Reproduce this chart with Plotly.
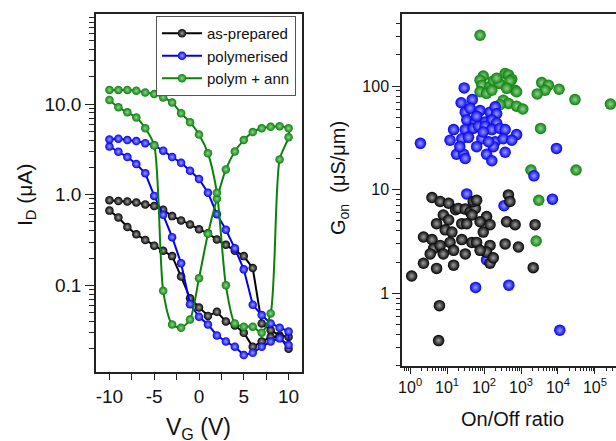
import math
import plotly.graph_objects as go

# ---------------- data: left panel (transfer curves) ----------------
vg = list(range(-10, 11))  # gate voltage, V

asprep_a = [0.87, 0.85, 0.84, 0.82, 0.78, 0.75, 0.68, 0.58, 0.52, 0.47, 0.415,
            0.375, 0.32, 0.28, 0.24, 0.21, 0.155, 0.038, 0.032, 0.028, 0.027]
asprep_b = [0.667, 0.56, 0.44, 0.365, 0.316, 0.274, 0.24, 0.21, 0.125, 0.072, 0.057,
            0.046, 0.051, 0.040, 0.036, 0.030, 0.021, 0.024, 0.027, 0.027, 0.020]

polym_a = [4.07, 4.15, 4.0, 3.9, 3.7, 3.5, 3.06, 2.6, 2.25, 1.84, 1.49,
           1.05, 0.61, 0.41, 0.256, 0.15, 0.061, 0.047, 0.038, 0.034, 0.031]
polym_b = [3.4, 2.98, 2.6, 2.18, 1.72, 0.97, 0.6, 0.34, 0.175, 0.062, 0.045,
           0.037, 0.028, 0.024, 0.021, 0.017, 0.018, 0.021, 0.024, 0.026, 0.022]

ann_a = [14.3, 14.3, 14.3, 14.0, 13.4, 12.9, 11.8, 10.4, 7.9, 6.3, 4.6,
         2.86, 1.05, 0.10, 0.038, 0.035, 0.035, 0.030, 0.049, 2.45, 4.3]
ann_b = [11.1, 9.2, 8.1, 7.1, 5.4, 3.5, 0.087, 0.037, 0.034, 0.042, 0.12,
         0.37, 0.9, 1.9, 3.0, 4.0, 4.9, 5.4, 5.6, 5.7, 5.4]

# ---------------- data: right panel (G_on vs On/Off ratio) ----------------
green_ratio = [95, 78, 87, 145, 178, 257, 372, 457, 562, 692, 759, 501, 78, 117, 162,
               331, 457, 759, 1120, 269, 3630, 5500, 4470, 2750, 10700, 28800, 263000,
               3390, 30900, 1860, 3020, 2570, 78, 219, 407]
green_gon = [125, 114, 102, 99, 112, 106, 132, 128, 116, 91, 88, 112, 88, 85, 91,
             73, 68, 64, 60, 66, 108, 102, 91, 84, 93, 74, 67,
             39, 15.5, 15.5, 7.9, 3.2, 309, 119, 95]

blue_ratio = [29, 24, 48, 31, 42, 78, 145, 200, 219, 34, 58, 107, 162, 219, 15, 31, 51,
              71, 107, 162, 269, 372, 759, 12, 25, 38, 87, 200, 331, 562, 1.9, 18, 28,
              117, 178, 372, 162, 31, 9100, 2240, 7080, 34, 347, 59, 468, 11200, 117,
              63, 95, 22, 63, 132]
blue_gon = [96, 69, 74, 56, 61, 58, 56, 63, 54, 47, 45, 45, 47, 44, 38, 38, 39,
            41, 41, 38, 39, 38, 34, 30, 31, 32, 31, 29, 31, 30, 28, 22, 22,
            22, 26, 23, 19, 20, 25, 13.6, 8.1, 9.1, 7.0, 1.14, 1.2, 0.44, 2.1,
            51, 36, 26, 26, 29]

black_ratio = [3.9, 6.5, 11, 17, 7.9, 11, 20, 31, 42, 58, 51, 63, 47, 117, 78, 145,
               5.2, 8.9, 13.5, 25, 34, 95, 457, 501, 407, 692, 2400, 2.3, 3.9, 4.3,
               6.5, 12, 25, 47, 63, 145, 117, 78, 3.5, 7.9, 15, 31, 372, 851,
               2.3, 5.2, 15, 145, 178, 2140, 1.1, 6.2, 5.9]
black_gon = [8.4, 7.7, 7.4, 6.4, 5.7, 5.1, 6.6, 6.5, 6.1, 6.6, 7.7, 7.9, 5.7, 5.5, 4.9, 4.6,
             4.7, 4.1, 3.9, 4.7, 4.7, 3.9, 8.9, 7.7, 4.9, 4.6, 4.6, 3.5, 3.3, 2.7,
             2.9, 3.1, 3.3, 3.1, 3.1, 2.9, 2.5, 2.6, 2.4, 2.4, 2.6, 2.4, 3.0, 2.8,
             1.95, 1.74, 1.87, 1.95, 2.2, 1.77, 1.47, 0.76, 0.35]

names = ["as-prepared", "polymerised", "polym + ann"]
colors = ["#000000", "#0000ee", "#0a820a"]
highlights = ["#a0a0a0", "#9a9aff", "#8fd08f"]

W, H = 616, 441

fig = go.Figure()


def loop(a, b):
    return vg + vg[::-1], a + b[::-1]


left_sets = [(asprep_a, asprep_b, "linear"), (polym_b, polym_a, "linear"), (ann_b, ann_a, "spline")]
for i, (a, b, shape) in enumerate(left_sets):
    xs, ys = loop(a, b)
    fig.add_trace(go.Scatter(
        x=xs, y=ys, mode="lines+markers", name=names[i],
        line=dict(color=colors[i], width=2, shape=shape, smoothing=0.7),
        marker=dict(size=8.5, color=colors[i], line=dict(width=0),
                    gradient=dict(type="radial", color=highlights[i])),
        xaxis="x", yaxis="y", showlegend=True))

right_sets = [(green_ratio, green_gon, 2), (blue_ratio, blue_gon, 1), (black_ratio, black_gon, 0)]
for xs, ys, ci in right_sets:
    fig.add_trace(go.Scatter(
        x=xs, y=ys, mode="markers", cliponaxis=False,
        marker=dict(size=11.5, color=colors[ci], line=dict(width=0),
                    gradient=dict(type="radial", color=highlights[ci])),
        xaxis="x2", yaxis="y2", showlegend=False))


def log_minor(lo, hi):
    return [m * 10 ** e for e in range(lo, hi) for m in range(2, 10)]


axis_common = dict(showgrid=False, zeroline=False, showline=True, linecolor="#222",
                   linewidth=1.5, ticks="outside", tickcolor="#222", tickwidth=1.2,
                   automargin=False)

fig.update_layout(
    width=W, height=H, margin=dict(l=0, r=0, t=0, b=0),
    paper_bgcolor="white", plot_bgcolor="white",
    font=dict(family="Arial, Liberation Sans, sans-serif", color="#111"),
    xaxis=dict(axis_common, domain=[96 / W, 302 / W], range=[-11.5, 11.5], mirror=True,
               tickmode="array", tickvals=[-10, -5, 0, 5, 10],
               ticktext=["-10", "-5", "0", "5", "10"], ticklen=6,
               tickfont=dict(size=19),
               minor=dict(tickmode="array", tickvals=[-7.5, -2.5, 2.5, 7.5], ticks="outside",
                          ticklen=6, tickcolor="#222", tickwidth=1.2)),
    yaxis=dict(axis_common, type="log", domain=[1 - 372 / H, 1 - 14 / H],
               range=[-1.956, 1.993], mirror=True,
               tickmode="array", tickvals=[0.1, 1, 10], ticktext=["0.1", "1.0", "10.0"],
               ticklen=9, tickfont=dict(size=19),
               minor=dict(tickmode="array", tickvals=log_minor(-2, 2), ticks="outside",
                          ticklen=5, tickcolor="#222", tickwidth=1.2)),
    xaxis2=dict(axis_common, type="log", domain=[402 / W, 1.0], range=[-0.22, 5.57],
                mirror=True, anchor="y2",
                tickmode="array", tickvals=[1, 10, 100, 1e3, 1e4, 1e5],
                ticktext=["10<sup>0</sup>", "10<sup>1</sup>", "10<sup>2</sup>",
                          "10<sup>3</sup>", "10<sup>4</sup>", "10<sup>5</sup>"],
                ticklen=6, tickfont=dict(size=16),
                minor=dict(tickmode="array", tickvals=log_minor(-1, 6), ticks="outside",
                           ticklen=3, tickcolor="#222", tickwidth=1)),
    yaxis2=dict(axis_common, type="log", domain=[1 - 366 / H, 1 - 14 / H],
                range=[-0.701, 2.695], mirror=False, anchor="x2",
                tickmode="array", tickvals=[1, 10, 100], ticktext=["1", "10", "100"],
                ticklen=8, tickfont=dict(size=16),
                minor=dict(tickmode="array", tickvals=log_minor(-1, 3), ticks="outside",
                           ticklen=4.5, tickcolor="#222", tickwidth=1.2)),
    legend=dict(x=156 / W, y=1 - 16 / H, xanchor="left", yanchor="top",
                bgcolor="white", bordercolor="#555", borderwidth=1, itemwidth=40,
                font=dict(size=15, color="#111"), tracegroupgap=0),
    annotations=[
        dict(text="I<sub>D</sub> (\u03bcA)", x=26 / W, y=1 - 195 / H, xref="paper", yref="paper",
             textangle=-90, showarrow=False, font=dict(size=21), xanchor="center", yanchor="middle"),
        dict(text="V<sub>G</sub> (V)", x=198 / W, y=1 - 412 / H, xref="paper", yref="paper",
             showarrow=False, font=dict(size=23), xanchor="center", yanchor="top"),
        dict(text="G<sub>on</sub>\u00a0 (\u03bcS/\u03bcm)", x=340 / W, y=1 - 178 / H, xref="paper",
             yref="paper", textangle=-90, showarrow=False, font=dict(size=20),
             xanchor="center", yanchor="middle"),
        dict(text="On/Off ratio", x=512 / W, y=1 - 419 / H, xref="paper", yref="paper",
             showarrow=False, font=dict(size=20), xanchor="center", yanchor="middle"),
    ],
)

fig.write_html("out.html", config={"displayModeBar": False},
               post_script="document.body.style.margin='0';document.body.style.overflow='hidden';")
